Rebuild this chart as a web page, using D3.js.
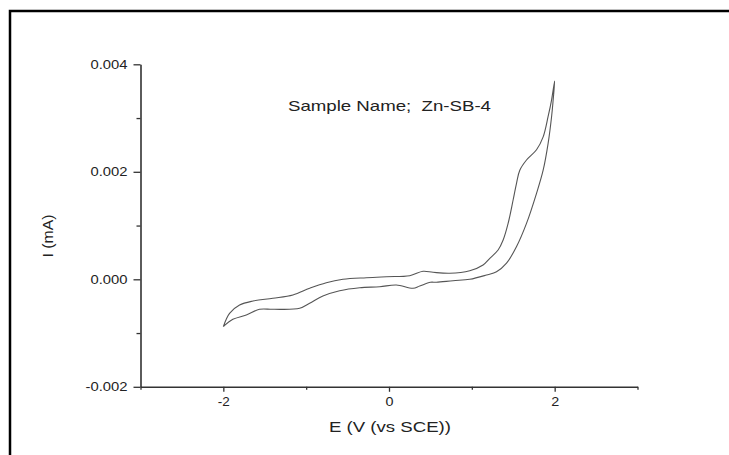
<!DOCTYPE html>
<html>
<head>
<meta charset="utf-8">
<script src="https://cdn.jsdelivr.net/npm/d3@7"></script>
<style>
  body { margin: 0; background: #fff; }
  text { font-family: "Liberation Sans", Arial, sans-serif; fill: #222; }
</style>
</head>
<body>
<div id="chart"></div>
<script>
// cyclic voltammogram
var sweepUpE = [-2.0, -1.925, -1.804, -1.643, -1.402, -1.16, -0.958, -0.757, -0.556, -0.273, -0.031, 0.25, 0.411, 0.532, 0.733, 0.975, 1.136, 1.217, 1.317, 1.378, 1.438, 1.499, 1.54, 1.579, 1.66, 1.781, 1.861, 1.921, 1.963, 2.0];
var sweepUpI = [-0.00088, -0.000633, -0.000478, -0.000404, -0.000353, -0.000292, -0.000167, -0.000063, 0.0, 0.00003, 0.000048, 0.000067, 0.000149, 0.00013, 0.000112, 0.00016, 0.000266, 0.00039, 0.000545, 0.000731, 0.00104, 0.00148, 0.00179, 0.00203, 0.00222, 0.00241, 0.00265, 0.00303, 0.00334, 0.00369];
var sweepDownE = [2.0, 1.982, 1.963, 1.921, 1.861, 1.781, 1.66, 1.54, 1.419, 1.298, 1.177, 0.975, 0.773, 0.573, 0.5, 0.371, 0.29, 0.089, -0.112, -0.354, -0.596, -0.798, -0.958, -1.079, -1.402, -1.563, -1.723, -1.885, -2.0];
var sweepDownI = [0.00369, 0.00334, 0.00303, 0.00253, 0.00203, 0.0016, 0.00104, 0.00061, 0.0003, 0.00014, 0.00008, 0.0, -0.000026, -0.000056, -0.000055, -0.000125, -0.000167, -0.000106, -0.000138, -0.000156, -0.000212, -0.000311, -0.000447, -0.00054, -0.000558, -0.000558, -0.000664, -0.000744, -0.00088];

var xTicks = [-2, 0, 2];
var xMinor = [-3, -1, 1, 3];
var yTicks = [-0.002, 0.000, 0.002, 0.004];
var yMinor = [-0.001, 0.001, 0.003];

var width = 729, height = 455;

var svg = d3.select("#chart").append("svg")
    .attr("width", width)
    .attr("height", height);

// outer frame (top and left edges only visible)
svg.append("path")
    .attr("d", "M10,455 L10,11 L729,11")
    .attr("fill", "none")
    .attr("stroke", "#000")
    .attr("stroke-width", 2.5);

var x = d3.scaleLinear().domain([-3, 3]).range([140.5, 637.5]);
var y = d3.scaleLinear().domain([-0.002, 0.004]).range([386.8, 64.3]);

// minor ticks first
svg.append("g")
    .attr("transform", "translate(0," + y(-0.002) + ")")
    .call(d3.axisBottom(x).tickValues(xMinor).tickSize(3).tickSizeOuter(0).tickFormat(""))
    .call(function (g) { g.select(".domain").remove(); g.selectAll("line").attr("stroke", "#333").attr("stroke-width", 1.3); });

svg.append("g")
    .attr("transform", "translate(" + x(-3) + ",0)")
    .call(d3.axisLeft(y).tickValues(yMinor).tickSize(4).tickSizeOuter(0).tickFormat(""))
    .call(function (g) { g.select(".domain").remove(); g.selectAll("line").attr("stroke", "#333").attr("stroke-width", 1.3); });

// major axes
var xAxis = svg.append("g")
    .attr("transform", "translate(0," + y(-0.002) + ")")
    .call(d3.axisBottom(x).tickValues(xTicks).tickSize(5).tickSizeOuter(0).tickPadding(6)
        .tickFormat(function (d) { return String(d); }));
xAxis.select(".domain").attr("stroke", "#333").attr("stroke-width", 1.6);
xAxis.selectAll("line").attr("stroke", "#333").attr("stroke-width", 1.3);
xAxis.selectAll("text").style("font-size", "12px").style("font-family", "Liberation Sans, Arial, sans-serif").attr("fill", "#222")
    .attr("textLength", function (d) { return d < 0 ? 12 : 8; })
    .attr("lengthAdjust", "spacingAndGlyphs");

var yAxis = svg.append("g")
    .attr("transform", "translate(" + x(-3) + ",0)")
    .call(d3.axisLeft(y).tickValues(yTicks).tickSize(7).tickSizeOuter(0).tickPadding(6)
        .tickFormat(function (d) { return d.toFixed(3); }));
yAxis.select(".domain").attr("stroke", "#333").attr("stroke-width", 1.6);
yAxis.selectAll("line").attr("stroke", "#333").attr("stroke-width", 1.3);
yAxis.selectAll("text").style("font-size", "12px").style("font-family", "Liberation Sans, Arial, sans-serif").attr("fill", "#222")
    .attr("textLength", function (d) { return d < 0 ? 42 : 37; })
    .attr("lengthAdjust", "spacingAndGlyphs");

// the loop
var loop = [];
sweepUpE.forEach(function (e, i) { loop.push([e, sweepUpI[i]]); });
sweepDownE.forEach(function (e, i) { if (i > 0) loop.push([e, sweepDownI[i]]); });

var line = d3.line()
    .x(function (d) { return x(d[0]); })
    .y(function (d) { return y(d[1]); })
    .curve(d3.curveCatmullRom.alpha(0.5));

svg.append("path")
    .datum(loop)
    .attr("d", line)
    .attr("fill", "none")
    .attr("stroke", "#555")
    .attr("stroke-width", 1.1);

// labels
svg.append("text")
    .attr("x", 288).attr("y", 111)
    .style("font-size", "14.5px")
    .style("white-space", "pre")
    .attr("textLength", 203)
    .attr("lengthAdjust", "spacingAndGlyphs")
    .text("Sample Name;  Zn-SB-4");

svg.append("text")
    .attr("x", 390).attr("y", 432)
    .attr("text-anchor", "middle")
    .style("font-size", "14.5px")
    .attr("textLength", 122)
    .attr("lengthAdjust", "spacingAndGlyphs")
    .text("E (V (vs SCE))");

svg.append("text")
    .attr("transform", "translate(53,236) rotate(-90)")
    .attr("text-anchor", "middle")
    .style("font-size", "14.5px")
    .attr("textLength", 43)
    .attr("lengthAdjust", "spacingAndGlyphs")
    .text("I (mA)");
</script>
</body>
</html>
